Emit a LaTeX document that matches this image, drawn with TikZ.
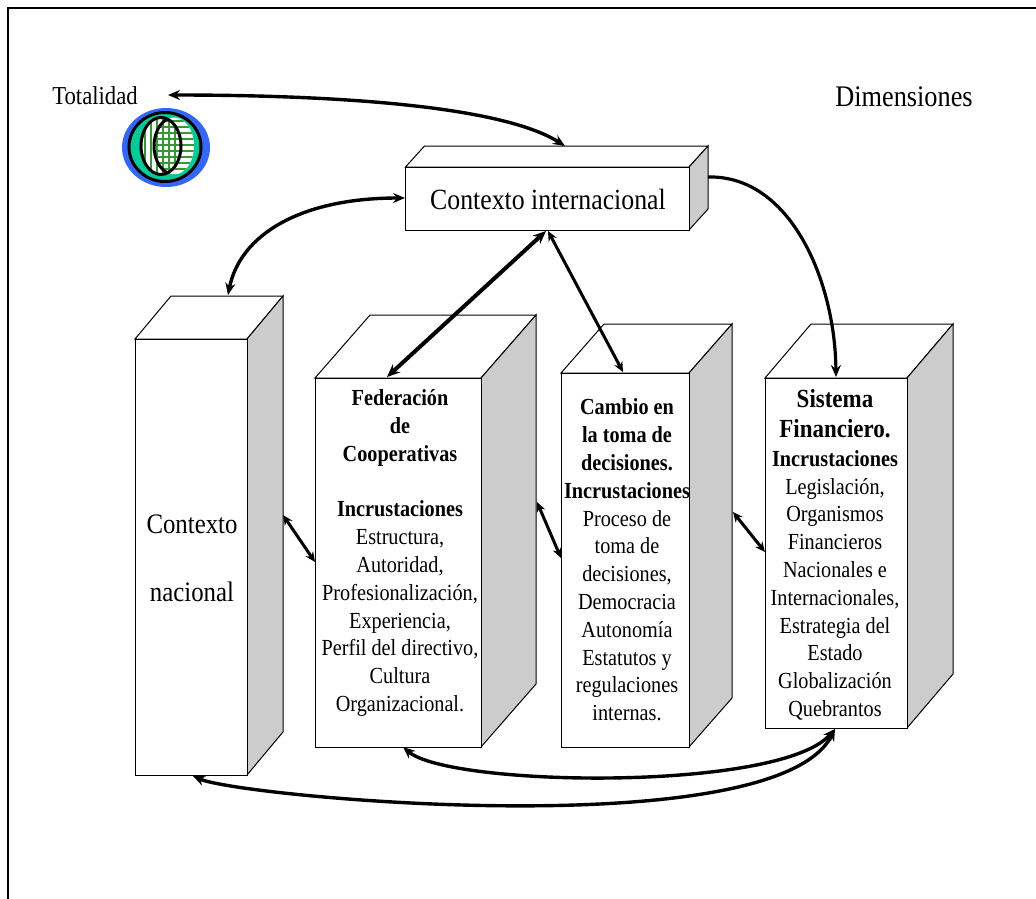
\documentclass[tikz,border=0pt]{standalone}
\usepackage{fontspec}
\setmainfont{Liberation Serif}[FakeStretch=0.88]
\usetikzlibrary{arrows.meta}
\definecolor{sidegray}{HTML}{CCCCCC}
\definecolor{logoblue}{HTML}{3366FF}
\definecolor{logoteal}{HTML}{00CC99}
\definecolor{logogreen}{HTML}{339933}
\tikzset{
  x=1pt,y=-1pt,
  face/.style={draw=black,line width=1pt,line join=miter},
  frontbox/.style={draw=black,fill=white,line width=1pt,inner sep=0pt,outer sep=0pt},
  bigarrow/.style={line width=3.4pt,{Stealth[length=12pt,width=10pt]}-{Stealth[length=12pt,width=10pt]}},
  midarrow/.style={line width=3pt,{Stealth[length=10pt,width=9pt]}-{Stealth[length=10pt,width=9pt]}},
  onearrow/.style={line width=3.2pt,-{Stealth[length=12pt,width=10pt]}},
  lbl/.style={inner sep=0pt,align=center,font=\fontsize{23}{27.8}\selectfont},
  stripe/.style={logogreen,line width=1.1pt},
  heavy/.style={black,line width=3pt}
}
% name, x1, y1, x2, y2, dx, dy
\newcommand{\cuboid}[7]{%
  \draw[face,fill=white] (#2,#3) -- ({#2+#6},{#3-#7}) -- ({#4+#6},{#3-#7}) -- (#4,#3) -- cycle;
  \draw[face,fill=sidegray] (#4,#3) -- ({#4+#6},{#3-#7}) -- ({#4+#6},{#5-#7}) -- (#4,#5) -- cycle;
  \node[frontbox,minimum width={(#4-#2)*1pt},minimum height={(#5-#3)*1pt}] (#1) at ({(#2+#4)/2},{(#3+#5)/2}) {};
}
\begin{document}
\begin{tikzpicture}
\useasboundingbox (0,0) rectangle (1036,899);
\fill[white] (0,0) rectangle (1036,899);
\coordinate (fa) at (8,899);
\coordinate (fb) at (8,8);
\coordinate (fc) at (1036,8);
\draw[black,line width=2pt,line join=miter] (fa) -- (fb) -- (fc);

% logo
\fill[logoblue] (166,147.5) ellipse [x radius=44,y radius=39.5];
\draw[black,line width=3pt,fill=logoteal] (165,147) ellipse [x radius=36,y radius=34.5];
\fill[white] (161,146) ellipse [x radius=20,y radius=28.5];
\fill[white] (174,146) ellipse [x radius=20,y radius=28.5];
\begin{scope}
  \clip (161,146) ellipse [x radius=20,y radius=28.5];
  \foreach \s in {145,151,...,181} \draw[stripe] (\s,110) -- (\s,180);
\end{scope}
\begin{scope}
  \clip (174,146) ellipse [x radius=20,y radius=28.5];
  \foreach \s in {121,127,...,175} \draw[stripe] (150,\s) -- (196,\s);
\end{scope}
\draw[heavy] (161,146) ellipse [x radius=20,y radius=28.5];
\begin{scope}
  \clip (161,146) ellipse [x radius=21,y radius=29.5];
  \draw[heavy] (174,146) ellipse [x radius=20,y radius=28.5];
\end{scope}

% boxes
\cuboid{inter}{405.5}{167}{689}{230}{19}{21}
\cuboid{nac}{135}{339}{247}{775}{36}{43}
\cuboid{fed}{315}{378}{481}{747}{55}{63}
\cuboid{cam}{561}{373}{689}{747}{43}{49}
\cuboid{sis}{765}{378}{907}{728}{46}{54}

% texts
\node[lbl,font=\fontsize{25.8}{28}\selectfont] (ttot) at (95,96) {Totalidad};
\node[lbl,font=\fontsize{29.9}{30}\selectfont] (tdim) at (904,97) {Dimensiones};
\node[lbl,font=\fontsize{29.3}{30}\selectfont] (tint) at (548,199) {Contexto internacional};
\node[lbl,font=\fontsize{28.2}{68}\selectfont] (tnac) at (192,558) {Contexto\\nacional};
\node[lbl] (tfed) at (400,553) {\textbf{Federación}\\\textbf{de}\\\textbf{Cooperativas}\\[27.8pt]\textbf{Incrustaciones}\\Estructura,\\Autoridad,\\Profesionalización,\\Experiencia,\\Perfil del directivo,\\Cultura\\Organizacional.};
\node[lbl] (tcam) at (627,560) {\textbf{Cambio en}\\\textbf{la toma de}\\\textbf{decisiones.}\\\textbf{Incrustaciones}\\Proceso de\\toma de\\decisiones,\\Democracia\\Autonomía\\Estatutos y\\regulaciones\\internas.};
\node[lbl] (tsis) at (835,555) {{\fontsize{26.1}{30}\selectfont\textbf{Sistema}}\\[2pt]{\fontsize{26.1}{30}\selectfont\textbf{Financiero.}}\\[1pt]\textbf{Incrustaciones}\\Legislación,\\Organismos\\Financieros\\Nacionales e\\Internacionales,\\Estrategia del\\Estado\\Globalización\\Quebrantos};

% connector ends
\coordinate (logoarrow) at (168,95);
\coordinate (intTop) at (565,146);
\coordinate (intLeft) at (405,198);
\coordinate (nacTop) at (228,295);
\coordinate (intBotA) at (546,231);
\coordinate (intBotB) at (548,231);
\coordinate (fedTop) at (387,377);
\coordinate (camTop) at (623,372);
\coordinate (intRight) at (708,177);
\coordinate (sisTop) at (836,377);
\coordinate (nacR) at (283,515);
\coordinate (fedL) at (315,562);
\coordinate (fedR) at (537,502);
\coordinate (camL) at (561,558);
\coordinate (camR) at (733,512);
\coordinate (sisL) at (765,552);
\coordinate (sisBot) at (835,729);
\coordinate (fedBot) at (403,747);
\coordinate (nacBot) at (193,776);

% connectors
\draw[bigarrow] (logoarrow) .. controls (330,95) and (500,105) .. (intTop);
\draw[bigarrow] (intLeft) .. controls (300,198) and (240,235) .. (nacTop);
\draw[line width=4pt,{Stealth[length=13pt,width=11pt]}-{Stealth[length=13pt,width=11pt]}] (intBotA) -- (fedTop);
\draw[midarrow] (intBotB) -- (camTop);
\draw[onearrow] (intRight) .. controls (790,175) and (835,280) .. (sisTop);
\draw[midarrow] (nacR) -- (fedL);
\draw[midarrow] (fedR) -- (camL);
\draw[midarrow] (camR) -- (sisL);
\draw[bigarrow] (fedBot) .. controls (450,787) and (780,792) .. (sisBot);
\draw[bigarrow] (nacBot) .. controls (240,797) and (775,847) .. (sisBot);
\end{tikzpicture}
\end{document}
